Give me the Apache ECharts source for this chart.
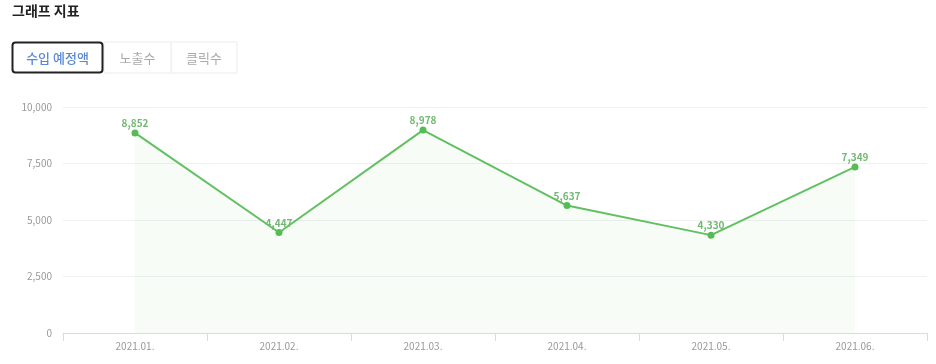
<!DOCTYPE html>
<html><head><meta charset="utf-8">
<script src="https://cdn.jsdelivr.net/npm/echarts@6/dist/echarts.min.js"></script>
<style>html,body{margin:0;padding:0;background:#fff}#c{width:936px;height:364px}</style>
</head><body><div id="c"></div>
<script>
const categories = ['2021.01.', '2021.02.', '2021.03.', '2021.04.', '2021.05.', '2021.06.'];
const values = [8852, 4447, 8978, 5637, 4330, 7349];
const tabs = ['수입 예정액', '노출수', '클릭수'];
const font = '"Noto Sans CJK KR", "Noto Sans", sans-serif';
const chart = echarts.init(document.getElementById('c'));
chart.setOption({
  animation: false,
  textStyle: { fontFamily: font },
  graphic: [
    { type: 'text', left: 12, top: 4, style: { text: '그래프 지표', font: 'bold 14px ' + font, fill: '#222' } },
    { type: 'rect', shape: { x: 171, y: 42, width: 66, height: 31 }, style: { fill: '#fff', stroke: '#ececec', lineWidth: 1 } },
    { type: 'rect', shape: { x: 104, y: 42, width: 67, height: 31 }, style: { fill: '#fff', stroke: '#ececec', lineWidth: 1 } },
    { type: 'rect', shape: { x: 12.5, y: 42.5, width: 90, height: 30, r: 3 }, style: { fill: '#fff', stroke: '#222', lineWidth: 2 } },
    { type: 'text', x: 57.5, y: 58, style: { text: tabs[0], font: '500 13px ' + font, fill: '#5a89d4', align: 'center', verticalAlign: 'middle' } },
    { type: 'text', x: 137.5, y: 58, style: { text: tabs[1], font: '13px ' + font, fill: '#aaa', align: 'center', verticalAlign: 'middle' } },
    { type: 'text', x: 204, y: 58, style: { text: tabs[2], font: '13px ' + font, fill: '#aaa', align: 'center', verticalAlign: 'middle' } }
  ],
  grid: { left: 63, right: 9, top: 107, bottom: 31 },
  xAxis: {
    type: 'category', data: categories, boundaryGap: true,
    axisLine: { lineStyle: { color: '#d5dce4' } },
    axisTick: { show: true, length: 8, lineStyle: { color: '#d5dce4' } },
    axisLabel: { color: '#999', fontSize: 10, margin: 8, fontFamily: font }
  },
  yAxis: {
    type: 'value', min: 0, max: 10000, interval: 2500,
    axisLine: { show: false }, axisTick: { show: false },
    axisLabel: { color: '#999', fontSize: 10, margin: 11, fontFamily: font, formatter: v => v.toLocaleString('en-US') },
    splitLine: { lineStyle: { color: '#eef0f2' } }
  },
  series: [{
    type: 'line', data: values, symbol: 'circle', symbolSize: 7,
    lineStyle: { color: '#62c062', width: 2 },
    itemStyle: { color: '#55bb55' },
    areaStyle: { color: 'rgba(110,200,110,0.08)' },
    label: { show: true, position: 'top', distance: 1, color: '#72b872', fontSize: 10, fontWeight: 'bold', fontFamily: font, formatter: p => p.value.toLocaleString('en-US') }
  }]
});
</script></body></html>
